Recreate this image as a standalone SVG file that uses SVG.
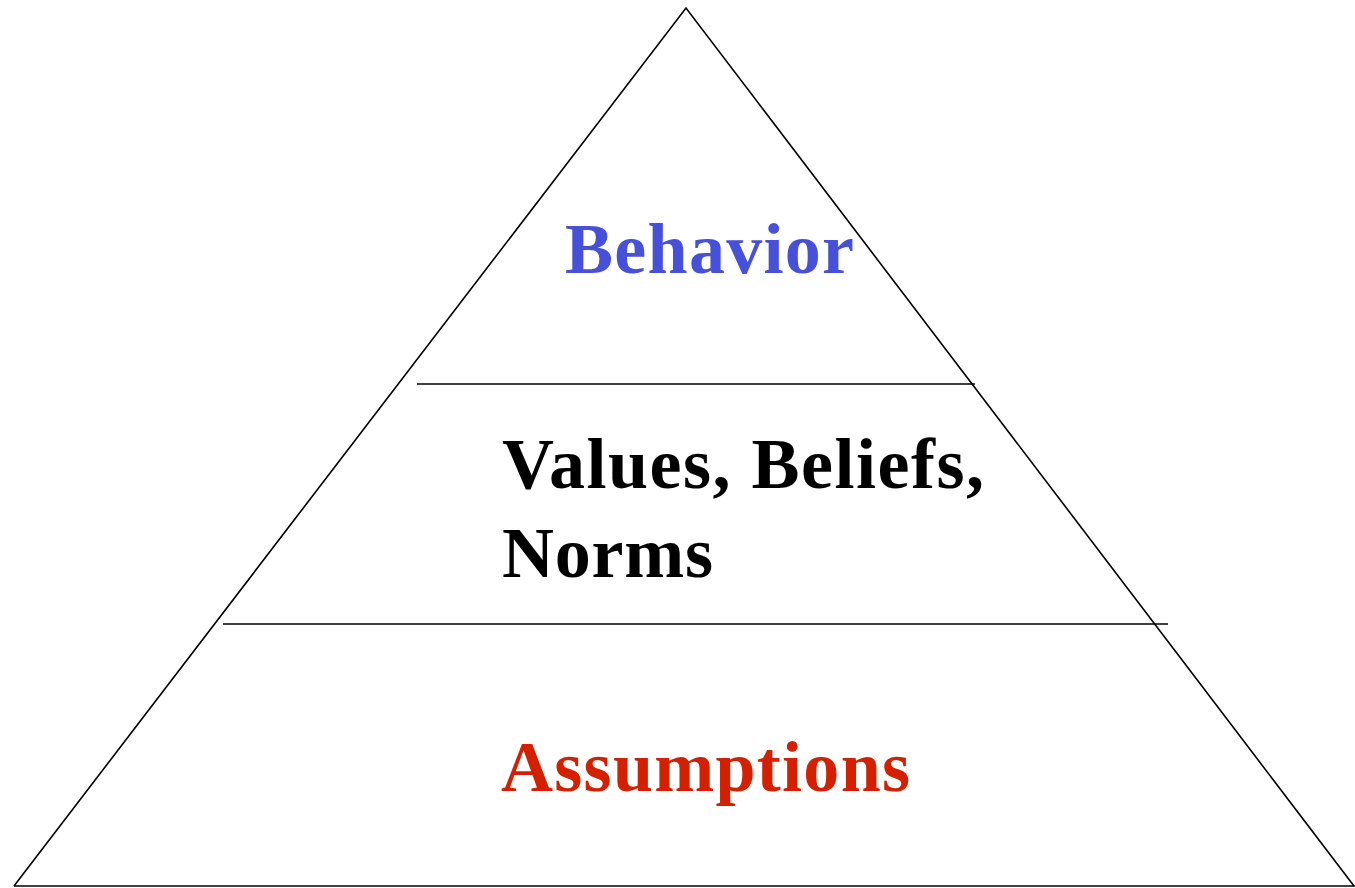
<svg xmlns="http://www.w3.org/2000/svg" width="1355" height="888" viewBox="0 0 1355 888">
  <style>
    .edge { stroke: #000; stroke-width: 1.6; fill: none; }
    .label { font-family: "Liberation Serif", "Times New Roman", serif; font-weight: bold; font-size: 72px; }
  </style>
  <rect width="1355" height="888" fill="#fff"/>
  <!-- pyramid outline -->
  <g id="pyramid">
    <polyline class="edge" points="14,886 686,8 1354,886"/>
    <line class="edge" x1="14" y1="886" x2="1355" y2="886"/>
  </g>
  <!-- layer dividers -->
  <g id="dividers">
    <line class="edge" x1="417" y1="384" x2="975" y2="384"/>
    <line class="edge" x1="223" y1="624" x2="1168" y2="624"/>
  </g>
  <g id="behavior">
    <text class="label" x="565" y="273" fill="#4650d8" textLength="289" lengthAdjust="spacing">Behavior</text>
  </g>
  <g id="values">
    <text class="label" x="502" y="488" fill="#000" textLength="482" lengthAdjust="spacing">Values, Beliefs,</text>
    <text class="label" x="502" y="577" fill="#000" textLength="211" lengthAdjust="spacing">Norms</text>
  </g>
  <g id="assumptions">
    <text class="label" x="501" y="791" fill="#d42000" textLength="409" lengthAdjust="spacing">Assumptions</text>
  </g>
</svg>
